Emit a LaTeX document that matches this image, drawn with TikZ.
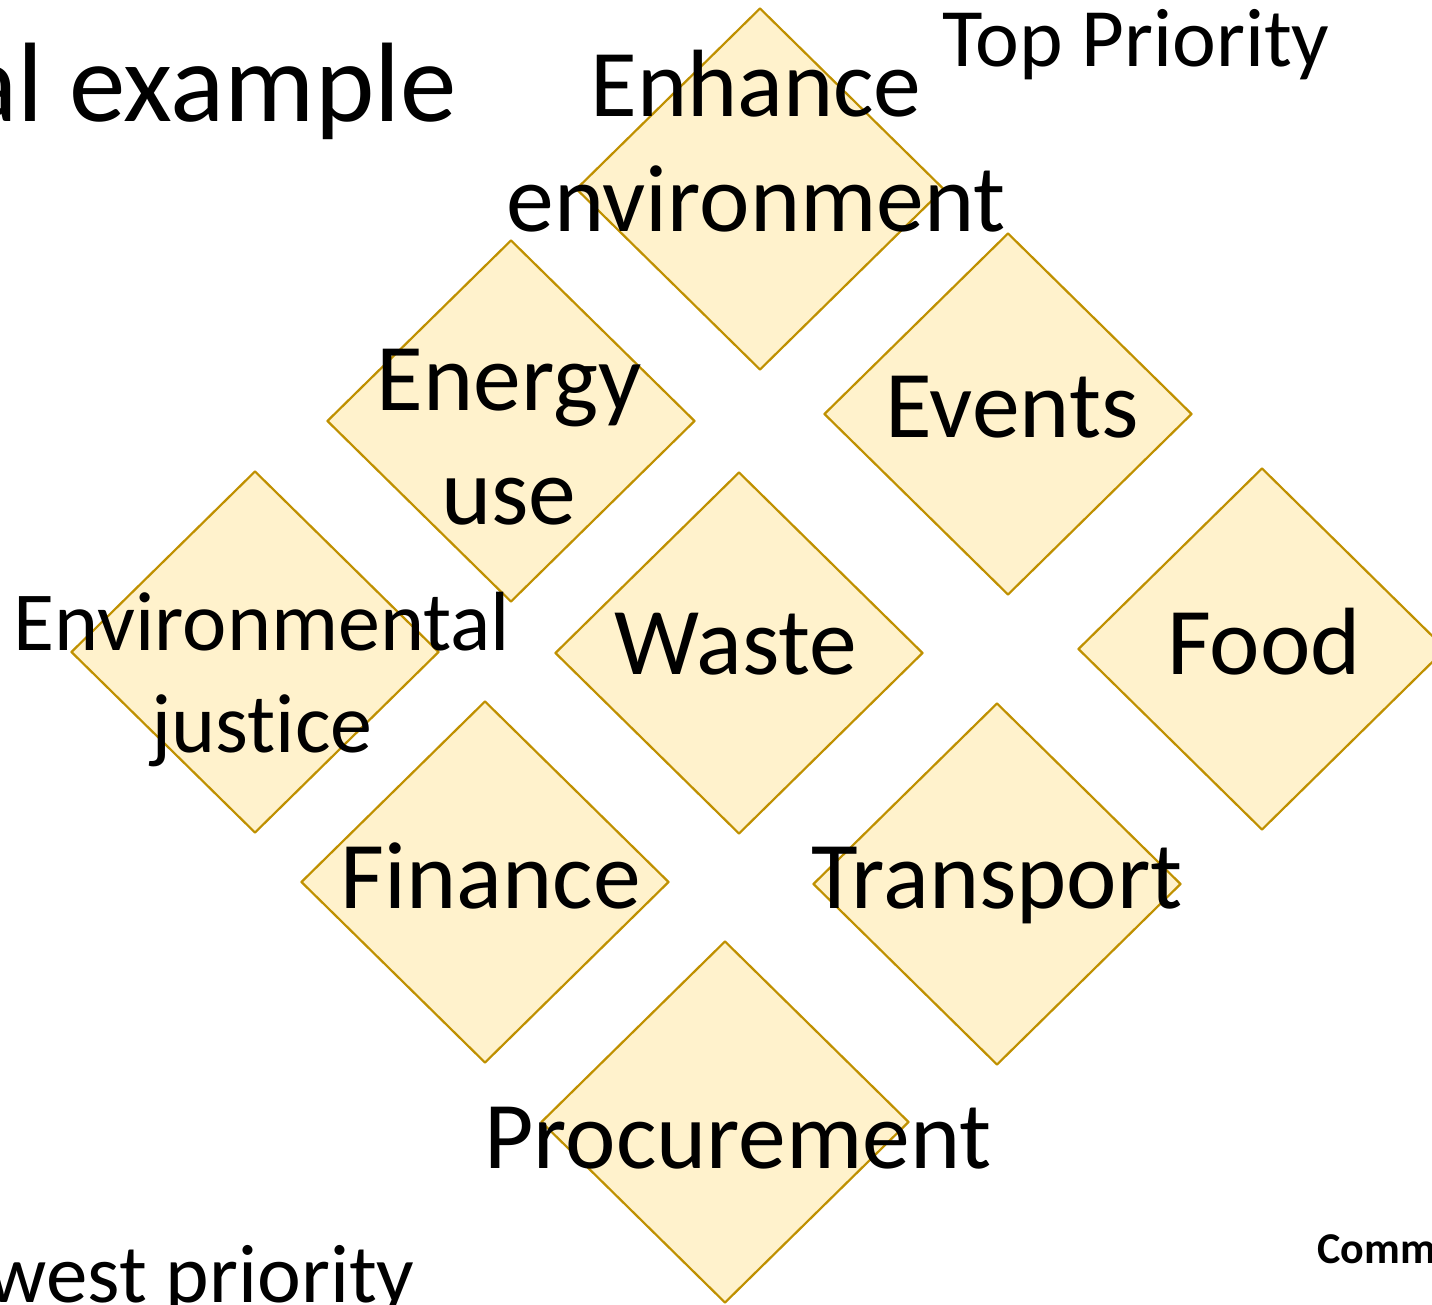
\documentclass[tikz,border=0pt]{standalone}
\usepackage{fontspec}
\setmainfont{Carlito}[Ligatures=NoCommon]
\usetikzlibrary{shapes.geometric}
\definecolor{prioFill}{HTML}{FFF2CC}
\definecolor{prioLine}{HTML}{BF9000}
\begin{document}
\begin{tikzpicture}[x=0.5pt,y=-0.5pt,line join=round,
	prio/.style={diamond,draw=prioLine,fill=prioFill,line width=1.1pt,minimum width=184pt,minimum height=181pt,inner sep=0pt},
	lbl/.style={anchor=base,align=center,inner sep=0pt,font=\fontsize{47.8}{57.5}\selectfont},
	side/.style={inner sep=0pt,font=\fontsize{41.5}{49}\selectfont}]
	\useasboundingbox (0,0) rectangle (1432,1305);
	\clip (0,0) rectangle (1432,1305);
	% diamonds
	\node[prio] (enh) at (760,189) {};
	\node[prio] (energy) at (511,421) {};
	\node[prio] (events) at (1008,414) {};
	\node[prio] (envj) at (255,652) {};
	\node[prio] (waste) at (739,653) {};
	\node[prio] (food) at (1262,649) {};
	\node[prio] (finance) at (485,882) {};
	\node[prio] (transport) at (997,884) {};
	\node[prio] (procure) at (725,1122) {};
	% labels (base = last line)
	\node[lbl] (enhT) at (756,232) {Enhance\\environment};
	\node[lbl] (energyT) at (509,525) {Energy\\use};
	\node[lbl] (eventsT) at (1012,438) {Events};
	\node[lbl,font=\fontsize{42}{51}\selectfont] (envjT) at (262,752) {Environmental\\justice};
	\node[lbl] (wasteT) at (736,675) {Waste};
	\node[lbl] (foodT) at (1264,675) {Food};
	\node[lbl] (financeT) at (491,908) {Finance};
	\node[lbl] (transportT) at (997,908) {Transport};
	\node[lbl] (procureT) at (738,1168) {Procurement};
	% slide texts
	\node[inner sep=0pt,anchor=base east,font=\fontsize{56.5}{66}\selectfont] (title) at (457,122) {al example};
	\node[side,anchor=base west] (top) at (942,67) {Top Priority};
	\node[side,anchor=base east] (low) at (415,1302) {west priority};
	\node[inner sep=0pt,anchor=base west,font=\fontsize{22}{26}\bfseries] (comm) at (1317,1263) {Comm};
\end{tikzpicture}
\end{document}
